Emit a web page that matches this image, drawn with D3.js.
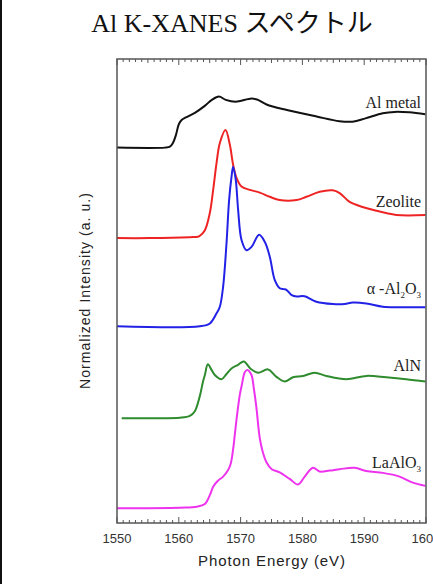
<!DOCTYPE html>
<html>
<head>
<meta charset="utf-8">
<script src="https://cdn.jsdelivr.net/npm/d3@7"></script>
<style>
  body { margin: 0; background: #fff; }
  svg { display: block; }
</style>
</head>
<body>
<script>
// energies (eV) and stacked normalized intensities (a.u., offsets included)
const alMetalE = [1550, 1557.75, 1558.56, 1559.05, 1559.53, 1560.02, 1560.5, 1561.15, 1562.6, 1564.2, 1565.35, 1566.5, 1567.6, 1569.2, 1571.8, 1572.8, 1574.2, 1577.5, 1582.3, 1586.0, 1588.1, 1590.2, 1593.0, 1594.9, 1597.3, 1599.9];
const alMetalI = [8.09, 8.09, 8.11, 8.19, 8.36, 8.60, 8.69, 8.74, 8.84, 8.99, 9.12, 9.19, 9.12, 9.08, 9.15, 9.12, 9.02, 8.90, 8.76, 8.66, 8.65, 8.72, 8.83, 8.86, 8.85, 8.81];

const zeoliteE = [1550, 1555.33, 1561.79, 1563.09, 1563.41, 1564.22, 1565.02, 1565.56, 1566.11, 1566.64, 1567.56, 1568.26, 1568.79, 1569.34, 1570.15, 1571.49, 1573.1, 1574.72, 1576.33, 1579.03, 1580.65, 1582.8, 1584.9, 1586.03, 1587.64, 1589.74, 1591.36, 1595.19, 1599.92];
const zeoliteI = [6.14, 6.14, 6.16, 6.17, 6.19, 6.31, 6.68, 7.18, 7.76, 8.19, 8.47, 8.15, 7.72, 7.44, 7.25, 7.18, 7.12, 7.03, 6.96, 6.96, 7.03, 7.14, 7.17, 7.11, 6.92, 6.81, 6.75, 6.64, 6.64];

const aluminaE = [1550, 1563.41, 1565.02, 1566.11, 1566.64, 1567.17, 1567.72, 1568.14, 1568.53, 1568.79, 1569.22, 1569.6, 1570.15, 1570.95, 1571.76, 1572.99, 1573.91, 1574.72, 1575.52, 1576.33, 1576.98, 1577.46, 1578.27, 1579.08, 1580.05, 1580.53, 1582.26, 1584.94, 1586.83, 1588.17, 1590.34, 1593.02, 1595.72, 1599.92];
const aluminaI = [4.24, 4.24, 4.30, 4.52, 4.66, 5.09, 6.03, 6.96, 7.46, 7.68, 7.39, 6.75, 6.10, 5.88, 5.95, 6.21, 6.06, 5.74, 5.24, 5.06, 5.04, 5.02, 4.91, 4.88, 4.89, 4.88, 4.77, 4.72, 4.72, 4.75, 4.73, 4.66, 4.65, 4.65];

const alnE = [1550.76, 1555.33, 1560.18, 1561.79, 1562.6, 1563.41, 1563.94, 1564.22, 1564.7, 1565.3, 1565.83, 1566.91, 1567.72, 1568.53, 1569.6, 1570.52, 1571.65, 1572.83, 1574.44, 1575.8, 1577.14, 1578.48, 1580.1, 1581.99, 1583.88, 1587.11, 1590.34, 1593.57, 1596.8, 1599.92];
const alnI = [2.26, 2.26, 2.27, 2.31, 2.41, 2.74, 3.06, 3.19, 3.42, 3.30, 3.19, 3.10, 3.21, 3.33, 3.41, 3.48, 3.32, 3.24, 3.31, 3.15, 3.05, 3.14, 3.17, 3.24, 3.17, 3.10, 3.17, 3.14, 3.10, 3.05];

const laalo3E = [1550, 1560.18, 1562.92, 1564.22, 1565.02, 1565.56, 1566.32, 1567.17, 1567.98, 1568.42, 1568.79, 1569.06, 1569.43, 1569.87, 1570.19, 1570.68, 1571.11, 1571.76, 1572.13, 1572.54, 1573.1, 1573.59, 1574.18, 1575.04, 1576.33, 1577.95, 1579.29, 1580.37, 1581.71, 1582.8, 1584.41, 1586.03, 1588.45, 1590.34, 1593.02, 1595.72, 1597.87, 1599.92];
const laalo3I = [0.32, 0.33, 0.35, 0.41, 0.60, 0.78, 0.91, 1.00, 1.14, 1.29, 1.59, 1.90, 2.33, 2.76, 2.97, 3.25, 3.30, 3.19, 2.91, 2.51, 1.83, 1.53, 1.31, 1.16, 1.09, 0.95, 0.83, 1.00, 1.19, 1.11, 1.13, 1.16, 1.19, 1.12, 1.08, 1.00, 0.87, 0.80];

const xTicks = [1550, 1560, 1570, 1580, 1590, 1600];

const series = [
  { e: alMetalE, v: alMetalI, color: "#111111", label: "Al metal", sub: null, ly: 108 },
  { e: zeoliteE, v: zeoliteI, color: "#ee2424", label: "Zeolite", sub: null, ly: 207 },
  { e: aluminaE, v: aluminaI, color: "#2222e6", label: "α -Al", sub: ["2", "O", "3"], ly: 294 },
  { e: alnE, v: alnI, color: "#2e8b2e", label: "AlN", sub: null, ly: 371 },
  { e: laalo3E, v: laalo3I, color: "#ee33ee", label: "LaAlO", sub: ["3"], ly: 468 }
];

const W = 433, H = 584;
const plotLeft = 117, plotRight = 426, plotTop = 59, plotBottom = 523;

const svg = d3.select("body").append("svg")
  .attr("width", W)
  .attr("height", H);

const x = d3.scaleLinear().domain([1550, 1600]).range([plotLeft, plotRight]);
const y = d3.scaleLinear().domain([0, 10]).range([plotBottom, plotTop]);

// page border on the left
svg.append("line")
  .attr("x1", 1).attr("x2", 1).attr("y1", 0).attr("y2", H)
  .attr("stroke", "#111").attr("stroke-width", 2);

// title
svg.append("text")
  .attr("x", 232).attr("y", 32)
  .attr("text-anchor", "middle")
  .attr("font-family", "'Liberation Serif', 'Noto Sans CJK JP', serif")
  .attr("font-size", 26)
  .attr("fill", "#111")
  .text("Al K-XANES スペクトル");

// curves
const line = d3.line()
  .x(d => x(d[0]))
  .y(d => y(d[1]))
  .curve(d3.curveCatmullRom.alpha(0.5));

svg.selectAll("path.curve")
  .data(series)
  .enter().append("path")
  .attr("class", "curve")
  .attr("fill", "none")
  .attr("stroke", d => d.color)
  .attr("stroke-width", 2)
  .attr("stroke-linejoin", "round")
  .attr("d", d => line(d.e.map((e, i) => [e, d.v[i]])));

// curve labels
series.forEach(s => {
  const t = svg.append("text")
    .attr("x", 421).attr("y", s.ly)
    .attr("text-anchor", "end")
    .attr("font-family", "'Liberation Serif', serif")
    .attr("font-size", 16)
    .attr("fill", "#222");
  t.append("tspan").text(s.label);
  if (s.sub) {
    s.sub.forEach(part => {
      const isNum = /\d/.test(part);
      t.append("tspan")
        .attr("font-size", isNum ? 9 : 16)
        .attr("dy", isNum ? 4 : -4)
        .text(part);
    });
  }
});

// ticks top and bottom (inward)
const minor = d3.range(1550, 1601, 1);
[plotTop, plotBottom].forEach(yy => {
  const dir = yy === plotTop ? 1 : -1;
  svg.append("g").selectAll("line")
    .data(minor)
    .enter().append("line")
    .attr("x1", d => x(d)).attr("x2", d => x(d))
    .attr("y1", yy)
    .attr("y2", d => yy + dir * (d % 10 === 0 ? 6 : d % 5 === 0 ? 4 : 3))
    .attr("stroke", "#555")
    .attr("stroke-width", 1);
});

// frame
svg.append("rect")
  .attr("x", plotLeft).attr("y", plotTop)
  .attr("width", plotRight - plotLeft).attr("height", plotBottom - plotTop)
  .attr("fill", "none")
  .attr("stroke", "#555")
  .attr("stroke-width", 1.5);

// tick labels
svg.append("g").selectAll("text")
  .data(xTicks)
  .enter().append("text")
  .attr("x", d => x(d))
  .attr("y", 543)
  .attr("text-anchor", "middle")
  .attr("font-family", "'Liberation Sans', Arial, sans-serif")
  .attr("font-size", 13)
  .attr("fill", "#333")
  .text(d => d);

// axis titles
svg.append("text")
  .attr("x", (plotLeft + plotRight) / 2).attr("y", 566)
  .attr("text-anchor", "middle")
  .attr("font-family", "'Liberation Sans', Arial, sans-serif")
  .attr("font-size", 15)
  .attr("textLength", 147)
  .attr("lengthAdjust", "spacing")
  .attr("fill", "#222")
  .text("Photon Energy (eV)");

svg.append("text")
  .attr("transform", "translate(90," + (plotTop + plotBottom) / 2 + ") rotate(-90)")
  .attr("text-anchor", "middle")
  .attr("font-family", "'Liberation Sans', Arial, sans-serif")
  .attr("font-size", 14)
  .attr("textLength", 196)
  .attr("lengthAdjust", "spacing")
  .attr("fill", "#222")
  .text("Normalized Intensity (a. u.)");
</script>
</body>
</html>
